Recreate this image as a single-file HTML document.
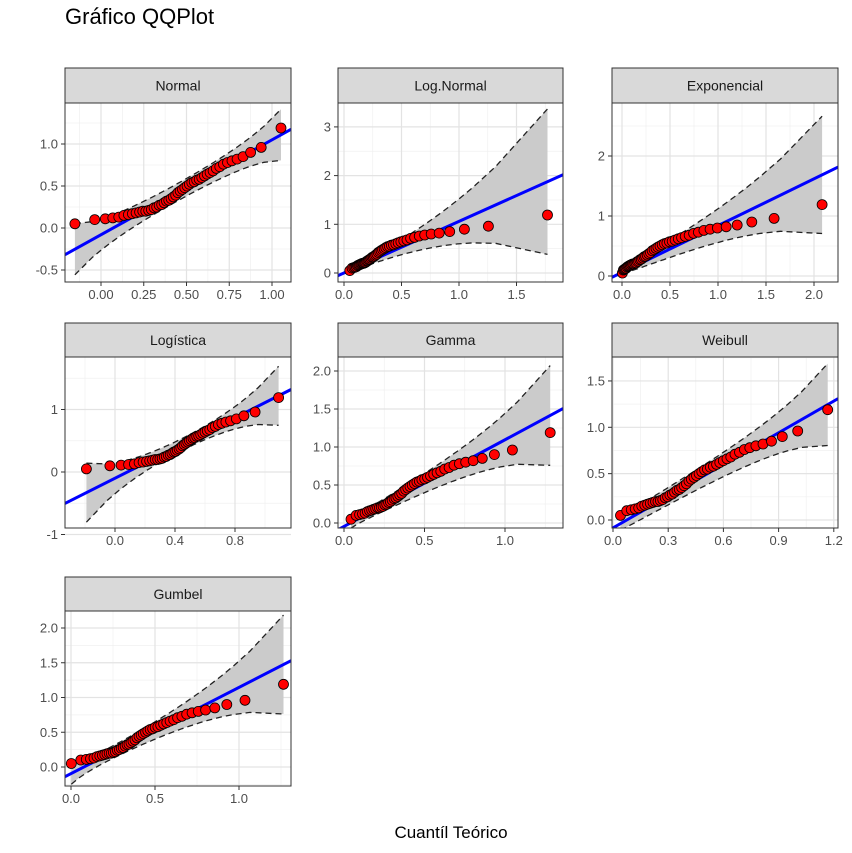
<!DOCTYPE html>
<html><head><meta charset="utf-8"><style>
body{margin:0;background:#fff;}
svg text{font-family:"Liberation Sans","DejaVu Sans",sans-serif;}
</style></head><body>
<svg id="s" width="852" height="848" xmlns="http://www.w3.org/2000/svg">
<text x="65" y="24" font-size="22" fill="#000">Gráfico QQPlot</text>
<text x="451" y="838" font-size="17" text-anchor="middle" fill="#000">Cuantíl Teórico</text>
</svg>
<script>
const S=document.getElementById('s');
let out='';
const ys=[0.05,0.10,0.11,0.12,0.13,0.15,0.16,0.17,0.18,0.19,0.20,0.20,0.21,0.22,0.24,0.25,0.27,0.28,0.30,0.32,0.33,0.35,0.37,0.39,0.42,0.44,0.46,0.48,0.50,0.52,0.54,0.55,0.57,0.58,0.60,0.62,0.64,0.66,0.68,0.71,0.73,0.76,0.78,0.80,0.82,0.85,0.90,0.96,1.19];
const n=ys.length;
function qnorm(p){const a=[-39.6968302866538,220.946098424521,-275.928510446969,138.357751867269,-30.6647980661472,2.50662827745924],b=[-54.4760987982241,161.585836858041,-155.698979859887,66.8013118877197,-13.2806815528857],c=[-0.00778489400243029,-0.322396458041136,-2.40075827716184,-2.54973253934373,4.37466414146497,2.93816398269878],d=[0.00778469570904146,0.32246712907004,2.445134137143,3.75440866190742];
if(p<0.02425){const q=Math.sqrt(-2*Math.log(p));return(((((c[0]*q+c[1])*q+c[2])*q+c[3])*q+c[4])*q+c[5])/((((d[0]*q+d[1])*q+d[2])*q+d[3])*q+1);}
if(p>1-0.02425)return -qnorm(1-p);
const q=p-0.5,r=q*q;return(((((a[0]*r+a[1])*r+a[2])*r+a[3])*r+a[4])*r+a[5])*q/(((((b[0]*r+b[1])*r+b[2])*r+b[3])*r+b[4])*r+1);}
const dn=z=>Math.exp(-z*z/2)/Math.sqrt(2*Math.PI);
const K=2.5,TH=0.17,G25=1.32934;
const dists={
normal:{q:p=>0.45+0.26*qnorm(p),d:x=>dn((x-0.45)/0.26)/0.26},
lnorm:{q:p=>Math.exp(-1.21+0.768*qnorm(p)),d:x=>dn((Math.log(x)+1.21)/0.768)/(0.768*x)},
exp:{q:p=>-Math.log(1-p)/2.2,d:x=>2.2*Math.exp(-2.2*x)},
logis:{q:p=>0.45+0.14*Math.log(p/(1-p)),d:x=>{const e=Math.exp(-(x-0.45)/0.14);return e/(0.14*(1+e)*(1+e));}},
gamma:{q:p=>{const z=qnorm(p),v=1/(9*K);return K*TH*Math.pow(1-v+z*Math.sqrt(v),3);},d:x=>Math.pow(x,K-1)*Math.exp(-x/TH)/(G25*Math.pow(TH,K))},
weib:{q:p=>0.505*Math.pow(-Math.log(1-p),0.55),d:x=>{const k=1.82,l=0.505;return k/l*Math.pow(x/l,k-1)*Math.exp(-Math.pow(x/l,k));}},
gumb:{q:p=>0.317-0.207*Math.log(-Math.log(p)),d:x=>{const z=(x-0.317)/0.207;return Math.exp(-z-Math.exp(-z))/0.207;}}
};
const cols=[[65,291],[338,563],[612,838]],rows=[[68,103,282],[323,357,528],[577,611,786]];
const panels=[
{t:'Normal',c:0,r:0,d:'normal',x0:101,xs:171,y0:228,yss:84,a:-0.08,b:1.13,xt:[0,.25,.5,.75,1],xl:['0.00','0.25','0.50','0.75','1.00'],yt:[-0.5,0,0.5,1],yl:['-0.5','0.0','0.5','1.0']},
{t:'Log.Normal',c:1,r:0,d:'lnorm',x0:344,xs:115,y0:273,yss:48.7,a:0,b:1.06,xt:[0,.5,1,1.5],xl:['0.0','0.5','1.0','1.5'],yt:[0,1,2,3],yl:['0','1','2','3']},
{t:'Exponencial',c:2,r:0,d:'exp',x0:622,xs:96,y0:276,yss:60,a:0.06,b:0.78,xt:[0,.5,1,1.5,2],xl:['0.0','0.5','1.0','1.5','2.0'],yt:[0,1,2],yl:['0','1','2']},
{t:'Logística',c:0,r:1,d:'logis',x0:115,xs:150,y0:472,yss:62.5,a:-0.1,b:1.21,xt:[0,.4,.8],xl:['0.0','0.4','0.8'],yt:[-1,0,1],yl:['-1','0','1']},
{t:'Gamma',c:1,r:1,d:'gamma',x0:344,xs:161,y0:523,yss:76,a:-0.045,b:1.14,xt:[0,.5,1],xl:['0.0','0.5','1.0'],yt:[0,.5,1,1.5,2],yl:['0.0','0.5','1.0','1.5','2.0']},
{t:'Weibull',c:2,r:1,d:'weib',x0:613,xs:184,y0:520,yss:92.7,a:-0.085,b:1.14,xt:[0,.3,.6,.9,1.2],xl:['0.0','0.3','0.6','0.9','1.2'],yt:[0,.5,1,1.5],yl:['0.0','0.5','1.0','1.5']},
{t:'Gumbel',c:0,r:2,d:'gumb',x0:71,xs:168,y0:767,yss:69.5,a:-0.095,b:1.24,xt:[0,.5,1],xl:['0.0','0.5','1.0'],yt:[0,.5,1,1.5,2],yl:['0.0','0.5','1.0','1.5','2.0']}
];
panels.forEach((P,i)=>{
const [L,R]=cols[P.c],[ST,SB,B]=rows[P.r];
const X=x=>P.x0+x*P.xs,Y=y=>P.y0-y*P.yss;
out+=`<clipPath id="c${i}"><rect x="${L}" y="${SB}" width="${R-L}" height="${B-SB}"/></clipPath>`;
out+=`<rect x="${L}" y="${SB}" width="${R-L}" height="${B-SB}" fill="#fff"/>`;
let g='';
const dx=P.xt[1]-P.xt[0],dy=P.yt[1]-P.yt[0];
for(let k=-6;k<20;k++){const v=P.xt[0]+(k+0.5)*dx,px=X(v);if(px>L&&px<R)g+=`<line x1="${px}" x2="${px}" y1="${SB}" y2="${B}" stroke="#f0f0f0" stroke-width="0.7"/>`;
const w=P.yt[0]+(k+0.5)*dy,py=Y(w);if(py>SB&&py<B)g+=`<line y1="${py}" y2="${py}" x1="${L}" x2="${R}" stroke="#f0f0f0" stroke-width="0.7"/>`;}
P.xt.forEach(v=>g+=`<line x1="${X(v)}" x2="${X(v)}" y1="${SB}" y2="${B}" stroke="#e3e3e3" stroke-width="1.2"/>`);
P.yt.forEach(v=>g+=`<line y1="${Y(v)}" y2="${Y(v)}" x1="${L}" x2="${R}" stroke="#e3e3e3" stroke-width="1.2"/>`);
out+=g;
const D=dists[P.d];
const pts=ys.map((y,j)=>{const p=(j+0.5)/n;return{x:D.q(p),y:y,p:p};});
const up=[],lo=[];
for(let j=0;j<=60;j++){const p=0.5/n+(1-1/n)*j/60,x=D.q(p),se=1.96*P.b*Math.sqrt(p*(1-p)/n)/D.d(x),m=P.a+P.b*x;up.push([X(x),Y(m+se)]);lo.push([X(x),Y(m-se)]);}
const pl=a=>a.map(q=>q[0].toFixed(1)+','+q[1].toFixed(1)).join(' ');
out+=`<g clip-path="url(#c${i})">`;
out+=`<polygon points="${pl(up)} ${pl(lo.slice().reverse())}" fill="#cbcbcb"/>`;
out+=`<polyline points="${pl(up)}" fill="none" stroke="#222" stroke-width="1.3" stroke-dasharray="6,4"/>`;
out+=`<polyline points="${pl(lo)}" fill="none" stroke="#222" stroke-width="1.3" stroke-dasharray="6,4"/>`;
const xl=(L-P.x0)/P.xs,xr=(R-P.x0)/P.xs;
out+=`<line x1="${L}" y1="${Y(P.a+P.b*xl)}" x2="${R}" y2="${Y(P.a+P.b*xr)}" stroke="#0000ff" stroke-width="3"/>`;
pts.forEach(q=>out+=`<circle cx="${X(q.x).toFixed(1)}" cy="${Y(q.y).toFixed(1)}" r="5" fill="#ff0000" stroke="#000" stroke-width="0.8"/>`);
out+=`</g>`;
out+=`<rect x="${L}" y="${SB}" width="${R-L}" height="${B-SB}" fill="none" stroke="#333" stroke-width="1"/>`;
out+=`<rect x="${L}" y="${ST}" width="${R-L}" height="${SB-ST}" fill="#d9d9d9" stroke="#333" stroke-width="1"/>`;
out+=`<text x="${(L+R)/2}" y="${(ST+SB)/2+5}" font-size="14" text-anchor="middle" fill="#1a1a1a">${P.t}</text>`;
P.xt.forEach((v,k)=>{out+=`<line x1="${X(v)}" x2="${X(v)}" y1="${B}" y2="${B+4}" stroke="#333"/><text x="${X(v)}" y="${B+17}" font-size="13" text-anchor="middle" fill="#4d4d4d">${P.xl[k]}</text>`;});
P.yt.forEach((v,k)=>{out+=`<line x1="${L-4}" x2="${L}" y1="${Y(v)}" y2="${Y(v)}" stroke="#333"/><text x="${L-7}" y="${Y(v)+4.5}" font-size="13" text-anchor="end" fill="#4d4d4d">${P.yl[k]}</text>`;});
});
S.insertAdjacentHTML('beforeend',out);
</script>
</body></html>
